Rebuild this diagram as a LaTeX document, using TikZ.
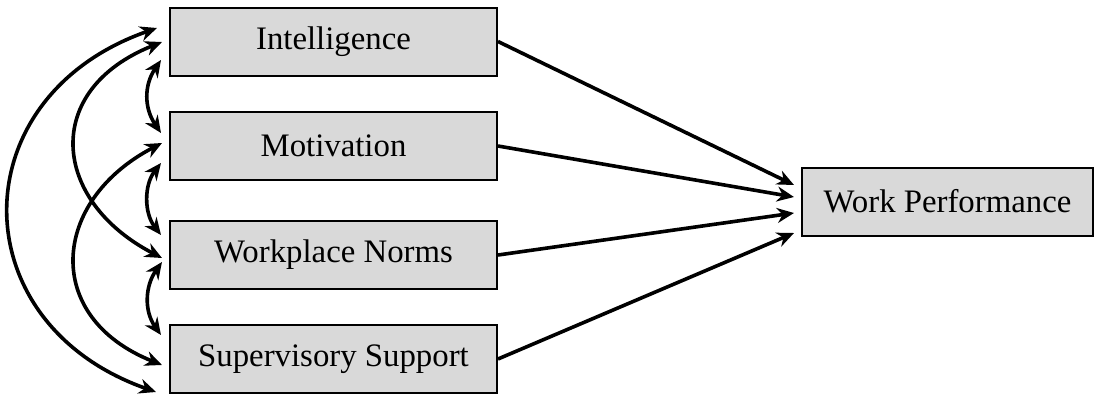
\documentclass[tikz,border=0pt]{standalone}
\usepackage{fontspec}
\setmainfont{Liberation Serif}
\usetikzlibrary{calc, arrows.meta}

\begin{document}
\begin{tikzpicture}[x=0.5pt, y=-0.5pt, line width=1.8pt,
    box/.style={draw, line width=1pt, fill=black!15, minimum width=163.5pt,
      minimum height=34pt, font=\fontsize{16.4}{19}\selectfont},
    path/.style={-{Stealth[length=8.5pt, width=7.5pt]}},
    cov/.style={{Stealth[length=8.5pt, width=7.5pt]}-{Stealth[length=8.5pt, width=7.5pt]}}]
    \useasboundingbox (0, 0) rectangle (1094, 396);
    \node[box] (intel) at (333.5, 41.5) {Intelligence};
    \node[box] (motiv) at (333.5, 146) {Motivation};
    \node[box] (norms) at (333.5, 255) {Workplace Norms};
    \node[box] (supp) at (333.5, 359) {Supervisory Support};
    \node[box, minimum width=145.5pt] (perf) at (947.5, 201.5) {Work Performance};
    % paths to work performance
    \draw[path] (intel.east) -- ($(perf.west)+(-7, -16.5)$);
    \draw[path] (motiv.east) -- ($(perf.west)+(-7, -4.5)$);
    \draw[path] (norms.east) -- ($(perf.west)+(-7, 11.5)$);
    \draw[path] (supp.east) -- ($(perf.west)+(-7, 31.5)$);
    % covariances
    \draw[cov] ($(intel.west)+(-12, -13.5)$) .. controls +(-197, 69) and +(-196, -69) .. ($(supp.west)+(-13, 33)$);
    \draw[cov] ($(intel.west)+(-7, 0.5)$) .. controls +(-120, 48) and +(-111, -58) .. ($(norms.west)+(-7, 3)$);
    \draw[cov] ($(motiv.west)+(-7, -3)$) .. controls +(-111, 58) and +(-120, -48) .. ($(supp.west)+(-7, 6)$);
    \draw[cov] ($(intel.west)+(-8, 18.5)$) .. controls +(-17, 25) and +(-17, -25) .. ($(motiv.west)+(-8, -13)$);
    \draw[cov] ($(motiv.west)+(-8, 17)$) .. controls +(-17, 22) and +(-17, -22) .. ($(norms.west)+(-8, -20)$);
    \draw[cov] ($(norms.west)+(-7, 7)$) .. controls +(-17, 24) and +(-17, -24) .. ($(supp.west)+(-8, -24)$);
\end{tikzpicture}
\end{document}
